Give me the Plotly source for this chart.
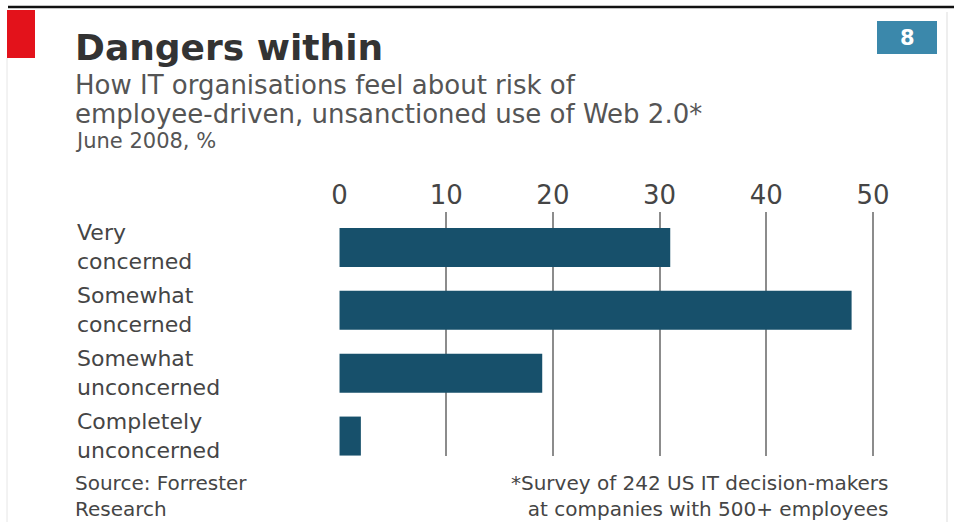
import plotly.graph_objects as go

# Survey responses, % of IT organisations
categories = ["Very<br>concerned", "Somewhat<br>concerned",
              "Somewhat<br>unconcerned", "Completely<br>unconcerned"]
shares = [31, 48, 19, 2]
tick_values = [0, 10, 20, 30, 40, 50]

title = "Dangers within"
subtitle = ["How IT organisations feel about risk of",
            "employee-driven, unsanctioned use of Web 2.0*"]
unit_note = "June 2008, %"
source = "Source: Forrester<br>Research"
footnote = "*Survey of 242 US IT decision-makers<br>at companies with 500+ employees"

W, H = 954, 522
L, R, T, B = 339, 80, 212, 66
PW, PH = W - L - R, H - T - B

BAR = "#17506b"
TXT = "#454545"
FONT = "DejaVu Sans"


def px(x):
    return (x - L) / PW


def py(y):
    return (H - B - y) / PH


def label(x, y, text, size, color=TXT, anchor="left", yref="paper"):
    return dict(x=px(x), y=py(y) if yref == "paper" else y,
                xref="paper", yref=yref, text=text, showarrow=False,
                xanchor=anchor, yanchor="middle", align=anchor,
                font=dict(family=FONT, size=size, color=color))


fig = go.Figure(go.Bar(
    x=shares,
    y=list(range(len(categories))),
    orientation="h",
    width=0.62,
    marker=dict(color=BAR, line=dict(width=0)),
    hoverinfo="x",
))

annotations = [label(75, i, lab, 22, yref="y") for i, lab in enumerate(categories)]

annotations += [
    label(73, 47, "<b>%s</b>" % title, 36, "#333333"),
    label(73, 85, subtitle[0], 26, "#555555"),
    label(73, 114, subtitle[1], 26, "#555555"),
    label(73, 141, unit_note, 21, "#555555"),
    label(73, 496, source, 20),
    label(890, 496, footnote, 20, anchor="right"),
]
annotations.append(dict(
    x=px(907), y=py(38), xref="paper", yref="paper", showarrow=False,
    xanchor="center", yanchor="middle", text="<b>8</b>",
    font=dict(family=FONT, size=21, color="white"),
))

shapes = [
    dict(type="line", xref="paper", yref="paper",
         x0=px(8), x1=px(954), y0=py(7), y1=py(7),
         line=dict(color="#111111", width=2.5)),
    dict(type="rect", xref="paper", yref="paper",
         x0=px(7), x1=px(35), y0=py(10), y1=py(58),
         fillcolor="#e3121b", line=dict(width=0)),
    dict(type="rect", xref="paper", yref="paper",
         x0=px(877), x1=px(937), y0=py(21), y1=py(54),
         fillcolor="#3b88ab", line=dict(width=0)),
    dict(type="line", xref="paper", yref="paper",
         x0=px(947), x1=px(947), y0=py(12), y1=py(522),
         line=dict(color="#dddddd", width=1)),
    dict(type="line", xref="paper", yref="paper",
         x0=px(7), x1=px(7), y0=py(58), y1=py(522),
         line=dict(color="#e6e6e6", width=1)),
]

fig.update_layout(
    width=W, height=H,
    margin=dict(l=L, r=R, t=T, b=B, autoexpand=False),
    paper_bgcolor="white", plot_bgcolor="white",
    showlegend=False,
    annotations=annotations,
    shapes=shapes,
    xaxis=dict(
        side="top", range=[-0.05, 50.1],
        tickvals=tick_values, ticktext=[str(v) for v in tick_values],
        showgrid=True, gridcolor="#8c8c8c", gridwidth=2,
        zeroline=False, showline=False, ticks="",
        tickfont=dict(family=FONT, size=26, color=TXT),
        ticklabelstandoff=2,
    ),
    yaxis=dict(
        range=[3.317, -0.563], showticklabels=False, showgrid=False,
        zeroline=False, showline=False, ticks="",
    ),
)

fig.write_html("out.html")
